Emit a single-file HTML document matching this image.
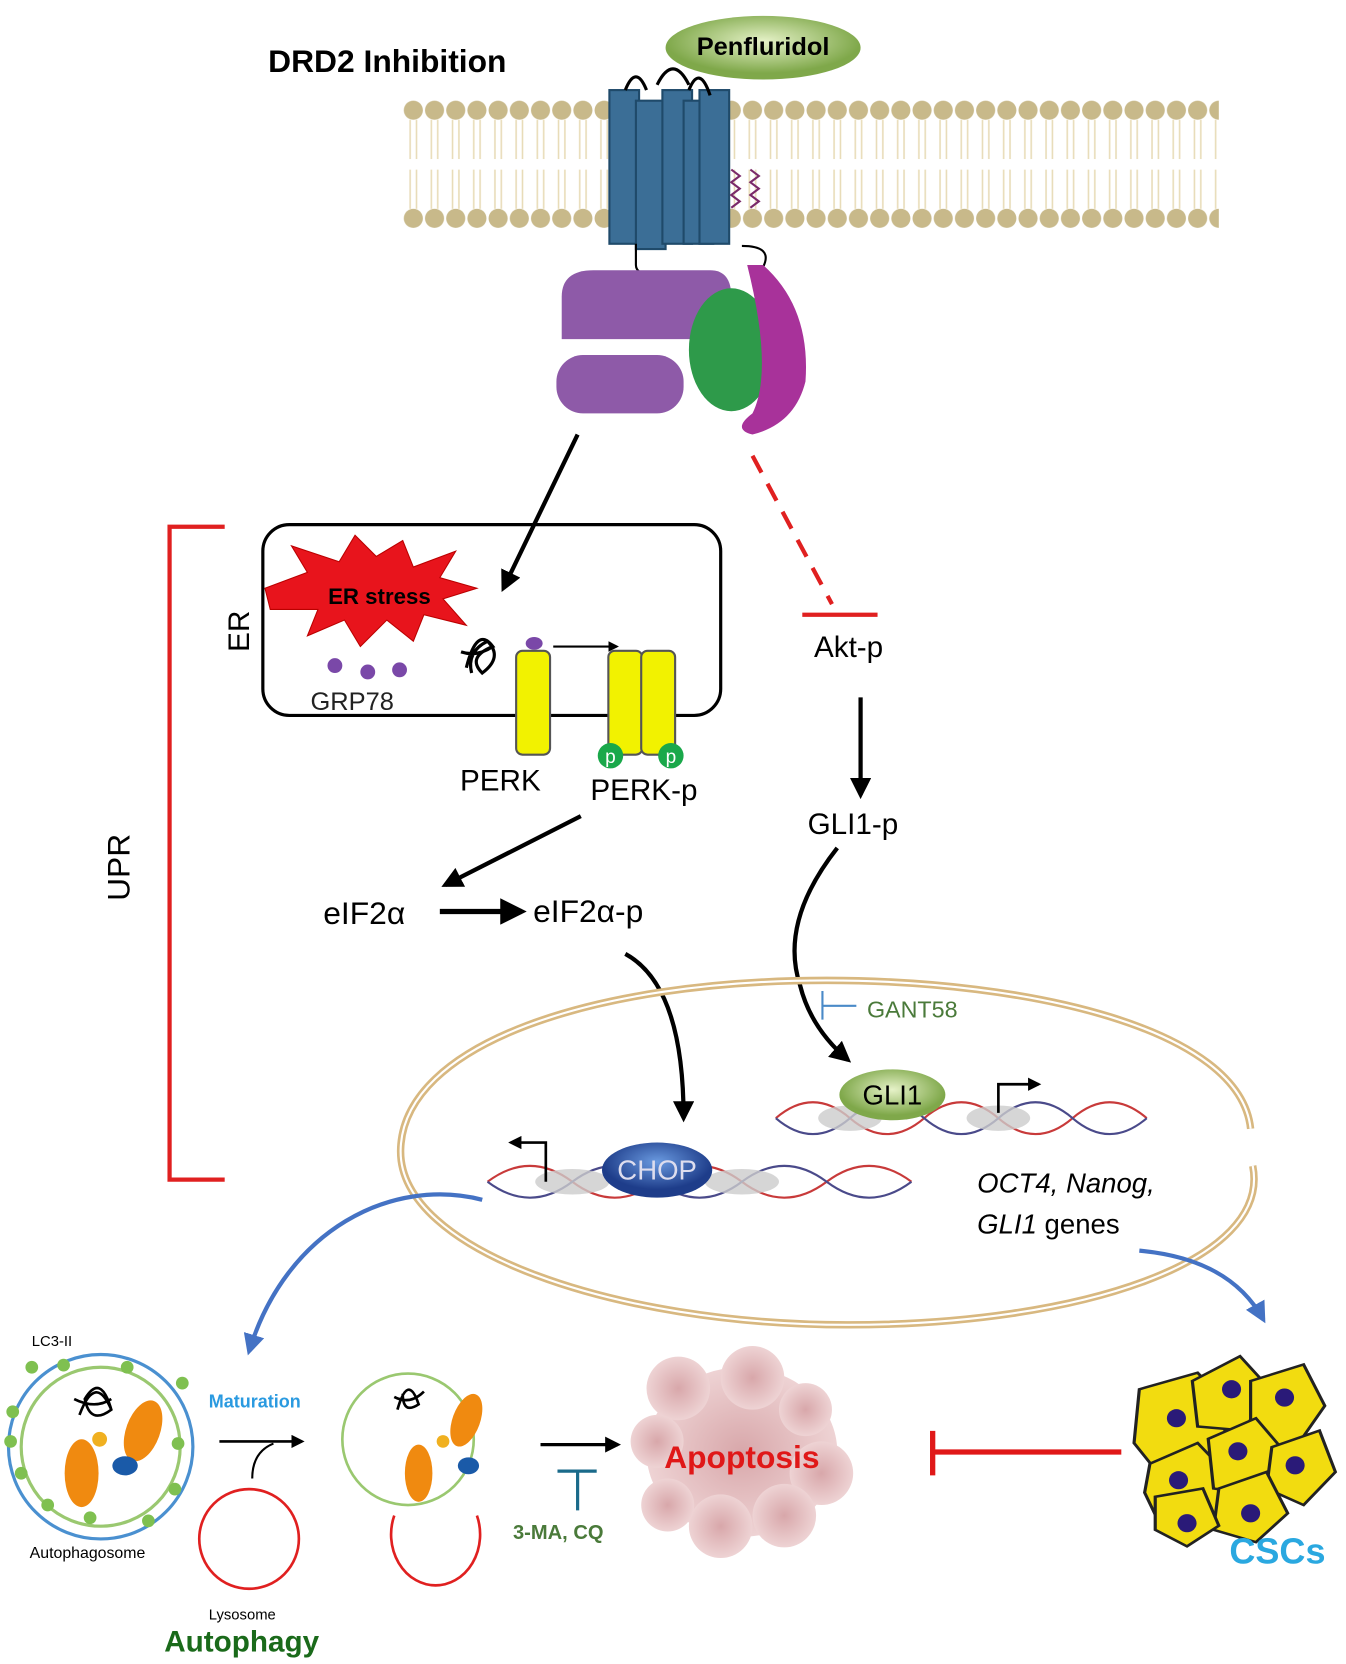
<!DOCTYPE html>
<html><head><meta charset="utf-8"><style>html,body{margin:0;padding:0;background:#fff}svg{display:block}</style></head>
<body>
<svg width="1346" height="1664" viewBox="0 0 1270 1570" preserveAspectRatio="none" xmlns="http://www.w3.org/2000/svg" font-family="Liberation Sans, sans-serif">
<defs>
<marker id="ab" markerWidth="5" markerHeight="5" refX="4" refY="2.5" orient="auto" markerUnits="strokeWidth"><path d="M0,0 L5,2.5 L0,5 z" fill="#000"/></marker>
<marker id="abl" markerWidth="5" markerHeight="5" refX="4" refY="2.5" orient="auto" markerUnits="strokeWidth"><path d="M0,0 L5,2.5 L0,5 z" fill="#4472c4"/></marker>
<radialGradient id="gg" cx="50%" cy="40%"><stop offset="0" stop-color="#e6f2c8"/><stop offset="1" stop-color="#7fa84a"/></radialGradient>
<radialGradient id="bg" cx="50%" cy="35%"><stop offset="0" stop-color="#6a9ae0"/><stop offset="1" stop-color="#1e3d8a"/></radialGradient>
<radialGradient id="pg"><stop offset="0" stop-color="#d8a7aa"/><stop offset="1" stop-color="#eed3d4"/></radialGradient>
<pattern id="mem" x="380" y="95" width="20" height="120" patternUnits="userSpaceOnUse"><circle cx="10" cy="9" r="9" fill="#c8b98a"/><circle cx="10" cy="111" r="9" fill="#c8b98a"/><path d="M7,18 V55 M13,18 V55 M7,65 V102 M13,65 V102" stroke="#e8dcb8" stroke-width="1.5"/></pattern>
</defs>
<rect x="380" y="95" width="770" height="120" fill="url(#mem)"/>
<text x="253" y="68" font-size="30" font-weight="bold">DRD2 Inhibition</text>
<ellipse cx="720" cy="45" rx="92" ry="30" fill="url(#gg)"/>
<text x="720" y="52" font-size="24" font-weight="bold" text-anchor="middle">Penfluridol</text>
<g fill="#3b6e96" stroke="#1f4a6a" stroke-width="2">
<rect x="575" y="85" width="28" height="145"/><rect x="600" y="95" width="28" height="140"/><rect x="625" y="85" width="28" height="145"/><rect x="645" y="95" width="28" height="135"/><rect x="660" y="85" width="28" height="145"/>
</g>
<path d="M590,85 q10,-25 20,0 M620,80 q15,-30 30,0 M650,85 q10,-25 20,5" stroke="#000" stroke-width="3" fill="none"/>
<path d="M690,160 l8,6 -8,6 8,6 -8,6 8,6 -8,6 M708,160 l8,6 -8,6 8,6 -8,6 8,6 -8,6" stroke="#7a2a6a" stroke-width="2" fill="none"/>
<path d="M600,230 v20 q0,10 20,10 M700,232 q30,0 20,20" stroke="#000" stroke-width="2" fill="none"/>
<path d="M530,280 q0,-25 30,-25 h110 q20,0 20,25 v40 h-160 z" fill="#8e5aa8"/>
<rect x="525" y="335" width="120" height="55" rx="25" fill="#8e5aa8"/>
<ellipse cx="690" cy="330" rx="40" ry="58" fill="#2e9a4a"/>
<path d="M720,250 q45,40 40,110 q-10,40 -50,50 q-20,-5 0,-20 q20,-40 -5,-140 z" fill="#a8329a"/>
<line x1="545" y1="410" x2="475" y2="555" stroke="#000" stroke-width="4" marker-end="url(#ab)"/>
<line x1="710" y1="430" x2="785" y2="570" stroke="#e02020" stroke-width="4" stroke-dasharray="18,12"/>
<line x1="757" y1="580" x2="828" y2="580" stroke="#e02020" stroke-width="4"/>
<text x="768" y="620" font-size="28">Akt-p</text>
<line x1="812" y1="658" x2="812" y2="750" stroke="#000" stroke-width="4" marker-end="url(#ab)"/>
<text x="762" y="787" font-size="28">GLI1-p</text>
<path d="M212,497 H160 V1113 H212" stroke="#e02020" stroke-width="4" fill="none"/>
<text transform="translate(122,850) rotate(-90)" font-size="30">UPR</text>
<rect x="248" y="495" width="432" height="180" rx="25" fill="none" stroke="#000" stroke-width="3"/>
<text transform="translate(235,615) rotate(-90)" font-size="28">ER</text>
<polygon points="250,555 290,540 275,515 320,530 335,505 355,525 380,510 390,535 430,520 415,545 450,555 418,565 440,590 400,580 390,605 365,585 340,610 325,585 290,600 300,575 255,575" fill="#e8141c" stroke="#b00" stroke-width="1"/>
<text x="358" y="570" font-size="21" font-weight="bold" text-anchor="middle">ER stress</text>
<circle cx="316" cy="628" r="7" fill="#7a48a8"/><circle cx="347" cy="634" r="7" fill="#7a48a8"/><circle cx="377" cy="632" r="7" fill="#7a48a8"/>
<text x="293" y="670" font-size="24" fill="#222">GRP78</text>
<path d="M440,630 q10,-40 25,-20 q-25,10 -10,25 q20,-15 5,-30 q-20,10 -15,30 M435,615 q15,5 30,-5" stroke="#000" stroke-width="3" fill="none"/>
<ellipse cx="504" cy="607" rx="8" ry="6" fill="#7a48a8"/>
<line x1="522" y1="610" x2="582" y2="610" stroke="#000" stroke-width="2" marker-end="url(#ab)"/>
<rect x="487" y="614" width="32" height="98" rx="6" fill="#f2f200" stroke="#555" stroke-width="2"/>
<rect x="574" y="614" width="32" height="98" rx="6" fill="#f2f200" stroke="#555" stroke-width="2"/>
<rect x="605" y="614" width="32" height="98" rx="6" fill="#f2f200" stroke="#555" stroke-width="2"/>
<circle cx="576" cy="713" r="12" fill="#1aa84a"/><circle cx="633" cy="713" r="12" fill="#1aa84a"/>
<text x="576" y="720" font-size="18" fill="#fff" text-anchor="middle">p</text><text x="633" y="720" font-size="18" fill="#fff" text-anchor="middle">p</text>
<text x="434" y="746" font-size="28">PERK</text>
<text x="557" y="755" font-size="28">PERK-p</text>
<line x1="548" y1="770" x2="420" y2="835" stroke="#000" stroke-width="4" marker-end="url(#ab)"/>
<text x="305" y="872" font-size="30">eIF2α</text>
<line x1="415" y1="860" x2="492" y2="860" stroke="#000" stroke-width="5" marker-end="url(#ab)"/>
<text x="503" y="870" font-size="30">eIF2α-p</text>
<path d="M590,900 q55,30 55,155" stroke="#000" stroke-width="4" fill="none" marker-end="url(#ab)"/>
<path d="M790,800 q-55,70 -35,130 q10,40 45,70" stroke="#000" stroke-width="4" fill="none" marker-end="url(#ab)"/>
<path d="M776,935 V962 M776,949 H808" stroke="#4a8ac8" stroke-width="2"/>
<text x="818" y="960" font-size="22" fill="#4a7a3a">GANT58</text>
<path d="M1180,1065 C1170,970 970,925 780,925 C560,925 380,985 378,1085 C376,1180 580,1250 800,1250 C1020,1250 1200,1190 1182,1100" stroke="#d8b880" stroke-width="7" fill="none"/>
<path d="M1180,1065 C1170,970 970,925 780,925 C560,925 380,985 378,1085 C376,1180 580,1250 800,1250 C1020,1250 1200,1190 1182,1100" stroke="#fff" stroke-width="2" fill="none"/>
<g fill="none" stroke-width="2">
<path d="M460,1115 q40,-30 80,0 t80,0 t80,0 t80,0 t80,0" stroke="#c83a3a"/>
<path d="M460,1115 q40,30 80,0 t80,0 t80,0 t80,0 t80,0" stroke="#4a4a8a"/>
<path d="M732,1055 q35,-30 70,0 t70,0 t70,0 t70,0 t70,0" stroke="#c83a3a"/>
<path d="M732,1055 q35,30 70,0 t70,0 t70,0 t70,0 t70,0" stroke="#4a4a8a"/>
</g>
<g fill="#ccc" opacity="0.8"><ellipse cx="540" cy="1115" rx="35" ry="12"/><ellipse cx="700" cy="1115" rx="35" ry="12"/><ellipse cx="802" cy="1055" rx="30" ry="12"/><ellipse cx="942" cy="1055" rx="30" ry="12"/></g>
<path d="M515,1115 V1078 H482" stroke="#000" stroke-width="2.5" fill="none" marker-end="url(#ab)"/>
<path d="M942,1050 V1023 H980" stroke="#000" stroke-width="2.5" fill="none" marker-end="url(#ab)"/>
<ellipse cx="620" cy="1104" rx="52" ry="26" fill="url(#bg)"/>
<text x="620" y="1113" font-size="26" fill="#dde" text-anchor="middle">CHOP</text>
<ellipse cx="842" cy="1033" rx="50" ry="24" fill="url(#gg)"/>
<text x="842" y="1042" font-size="26" text-anchor="middle">GLI1</text>
<text x="922" y="1125" font-size="26" font-style="italic">OCT4, Nanog,</text>
<text x="922" y="1164" font-size="26"><tspan font-style="italic">GLI1</tspan> genes</text>
<path d="M455,1132 C370,1110 270,1160 235,1275" stroke="#4472c4" stroke-width="4" fill="none" marker-end="url(#abl)"/>
<path d="M1075,1180 C1130,1185 1170,1205 1192,1245" stroke="#4472c4" stroke-width="4" fill="none" marker-end="url(#abl)"/>
<circle cx="95" cy="1365" r="87" fill="none" stroke="#4a90d0" stroke-width="3"/>
<circle cx="95" cy="1365" r="75" fill="none" stroke="#9ac870" stroke-width="3"/>
<g fill="#7fc050"><circle cx="12" cy="1332" r="6"/><circle cx="30" cy="1290" r="6"/><circle cx="60" cy="1288" r="6"/><circle cx="120" cy="1290" r="6"/><circle cx="172" cy="1305" r="6"/><circle cx="168" cy="1362" r="6"/><circle cx="165" cy="1405" r="6"/><circle cx="20" cy="1390" r="6"/><circle cx="45" cy="1420" r="6"/><circle cx="85" cy="1432" r="6"/><circle cx="140" cy="1435" r="6"/><circle cx="10" cy="1360" r="6"/></g>
<text x="30" y="1270" font-size="14">LC3-II</text>
<path d="M75,1335 q15,-40 30,-5 q-20,15 -25,-10 q15,-25 25,10 M70,1320 q20,10 35,0" stroke="#000" stroke-width="2.5" fill="none"/>
<ellipse cx="135" cy="1350" rx="16" ry="30" fill="#f08a10" transform="rotate(20 135 1350)"/>
<ellipse cx="77" cy="1390" rx="16" ry="32" fill="#f08a10"/>
<circle cx="94" cy="1358" r="7" fill="#f0b020"/>
<ellipse cx="118" cy="1383" rx="12" ry="9" fill="#1a5aa8"/>
<text x="28" y="1470" font-size="15">Autophagosome</text>
<text x="197" y="1328" font-size="17" font-weight="bold" fill="#2a9ae0">Maturation</text>
<line x1="207" y1="1360" x2="285" y2="1360" stroke="#000" stroke-width="2.5" marker-end="url(#ab)"/>
<path d="M238,1395 q0,-25 20,-33" stroke="#000" stroke-width="2" fill="none"/>
<circle cx="235" cy="1452" r="47" fill="none" stroke="#e02020" stroke-width="2.5"/>
<text x="197" y="1528" font-size="14">Lysosome</text>
<text x="155" y="1558" font-size="28" font-weight="bold" fill="#1a6a1a">Autophagy</text>
<circle cx="385" cy="1358" r="62" fill="none" stroke="#9ac870" stroke-width="2.5"/>
<path d="M372,1430 a42,48 0 1 0 78,0" fill="none" stroke="#e02020" stroke-width="2.5"/>
<path d="M375,1330 q10,-35 20,-5 q-15,10 -15,-10 M372,1318 q15,8 28,-5" stroke="#000" stroke-width="2.5" fill="none"/>
<ellipse cx="440" cy="1340" rx="13" ry="26" fill="#f08a10" transform="rotate(20 440 1340)"/>
<ellipse cx="395" cy="1390" rx="13" ry="27" fill="#f08a10"/>
<circle cx="418" cy="1360" r="6" fill="#f0b020"/><ellipse cx="442" cy="1383" rx="10" ry="8" fill="#1a5aa8"/>
<line x1="510" y1="1363" x2="583" y2="1363" stroke="#000" stroke-width="3" marker-end="url(#ab)"/>
<path d="M526,1388 H563 M545,1388 V1425" stroke="#1a6a8a" stroke-width="3"/>
<text x="484" y="1452" font-size="19" font-weight="bold" fill="#4a7a3a">3-MA, CQ</text>
<g fill="url(#pg)">
<ellipse cx="700" cy="1370" rx="90" ry="80"/>
<circle cx="640" cy="1310" r="30"/><circle cx="710" cy="1300" r="30"/><circle cx="760" cy="1330" r="25"/><circle cx="775" cy="1390" r="30"/><circle cx="740" cy="1430" r="30"/><circle cx="680" cy="1440" r="30"/><circle cx="630" cy="1420" r="25"/><circle cx="620" cy="1360" r="25"/>
</g>
<text x="700" y="1385" font-size="30" font-weight="bold" fill="#e01818" text-anchor="middle">Apoptosis</text>
<path d="M1058,1370 H880 M880,1350 V1392" stroke="#e01818" stroke-width="5"/>
<g transform="translate(0,289) scale(1,0.78)">
<g fill="#f2dc10" stroke="#222" stroke-width="3">
<path d="M1075,1310 l55,-20 30,40 -10,70 -55,15 -25,-40 z"/>
<path d="M1125,1300 l45,-30 25,35 -20,55 -45,-5 z"/>
<path d="M1180,1300 l50,-20 20,50 -30,55 -40,-10 z"/>
<path d="M1085,1400 l45,-25 30,40 -15,55 -50,5 -15,-40 z"/>
<path d="M1140,1370 l45,-25 30,45 -20,50 -50,-10 z"/>
<path d="M1200,1380 l45,-20 15,50 -30,40 -35,-20 z"/>
<path d="M1150,1430 l45,-20 20,50 -30,35 -40,-15 z"/>
<path d="M1090,1440 l45,-10 15,45 -30,25 -30,-20 z"/>
</g>
<g fill="#2a1a78"><ellipse cx="1110" cy="1345" rx="9" ry="11"/><ellipse cx="1162" cy="1310" rx="9" ry="11"/><ellipse cx="1212" cy="1320" rx="9" ry="11"/><ellipse cx="1112" cy="1420" rx="9" ry="11"/><ellipse cx="1168" cy="1385" rx="9" ry="11"/><ellipse cx="1222" cy="1402" rx="9" ry="11"/><ellipse cx="1180" cy="1460" rx="9" ry="11"/><ellipse cx="1120" cy="1472" rx="9" ry="11"/></g>
</g>
<text x="1160" y="1475" font-size="34" font-weight="bold" fill="#2aa8e0">CSCs</text>
</svg>
</body></html>
